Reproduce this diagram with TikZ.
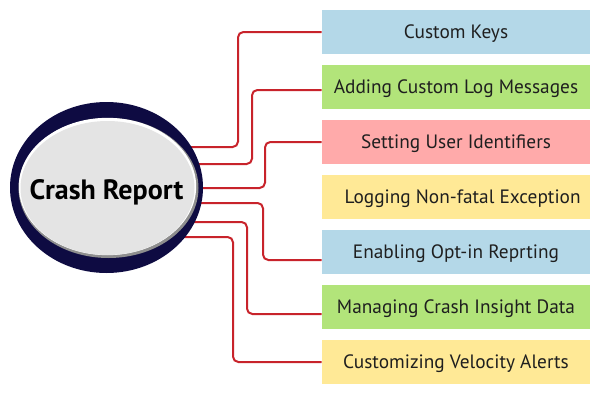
\documentclass[tikz,border=0pt]{standalone}
\usepackage{fontspec}
\setmainfont{PT Sans}
\usetikzlibrary{shapes.geometric,backgrounds}
\definecolor{navy}{HTML}{0E0B42}
\definecolor{rimgray}{HTML}{8E8E8E}
\definecolor{facegray}{HTML}{E4E4E4}
\definecolor{linkred}{HTML}{C8232B}
\definecolor{topicblue}{HTML}{B4D8E8}
\definecolor{topicgreen}{HTML}{B2E47A}
\definecolor{topicpink}{HTML}{FFAAAA}
\definecolor{topicyellow}{HTML}{FFE996}

\begin{document}
\begin{tikzpicture}[x=0.75pt,y=-0.75pt,
	topic/.style={minimum width=201pt,minimum height=33pt,inner sep=0pt,text=black!88,
		font=\fontsize{14.5}{17}\selectfont,text height=10.2pt,text depth=0pt},
	oval/.style={ellipse,inner sep=0pt},
	link/.style={draw=linkred,line width=1.5pt,rounded corners=4pt}]
	\useasboundingbox (0,0) rectangle (600,400);
	% centre
	\node[oval,fill=navy,minimum width=144.75pt,minimum height=128.25pt] (crash) at (106.5,187.5) {};
	\node[oval,fill=rimgray,minimum width=135pt,minimum height=105pt] (rim) at (108.5,188) {};
	\node[oval,fill=white,minimum width=133pt,minimum height=103pt] (glare) at (107.5,186.5) {};
	\node[oval,fill=facegray,minimum width=130.5pt,minimum height=100.5pt] (face) at (107.5,188) {};
	\node[font=\fontsize{21}{24}\selectfont\bfseries,inner sep=0pt,text height=14.7pt,text depth=0pt]
		(title) at (106.5,189.5) {Crash Report};
	% topics
	\node[topic,fill=topicblue] (keys) at (456,32) {Custom Keys};
	\node[topic,fill=topicgreen] (logmsg) at (456,87) {Adding Custom Log Messages};
	\node[topic,fill=topicpink] (userid) at (456,142) {Setting User Identifiers};
	\node[topic,fill=topicyellow] (nonfatal) at (456,197) {\hspace{10pt}Logging Non-fatal Exception};
	\node[topic,fill=topicblue] (optin) at (456,252) {Enabling Opt-in Reprting};
	\node[topic,fill=topicgreen] (insight) at (456,307) {Managing Crash Insight Data};
	\node[topic,fill=topicyellow] (velocity) at (456,362) {Customizing Velocity Alerts};
	\begin{scope}[on background layer]
		\draw[link] (keys.west) -| (238,147) -- (crash |- 0,147);
		\draw[link] ([yshift=-2.25pt]logmsg.west) -| (252,164) -- (crash |- 0,164);
		\draw[link] (userid.west) -| (265,188) -- (crash |- 0,188);
		\draw[link] ([yshift=-6pt]optin.west) -| (263,203) -- (crash |- 0,203);
		\draw[link] ([yshift=-5.25pt]insight.west) -| (247,222) -- (crash |- 0,222);
		\draw[link] (velocity.west) -| (233,237) -- (crash |- 0,237);
	\end{scope}
\end{tikzpicture}
\end{document}
